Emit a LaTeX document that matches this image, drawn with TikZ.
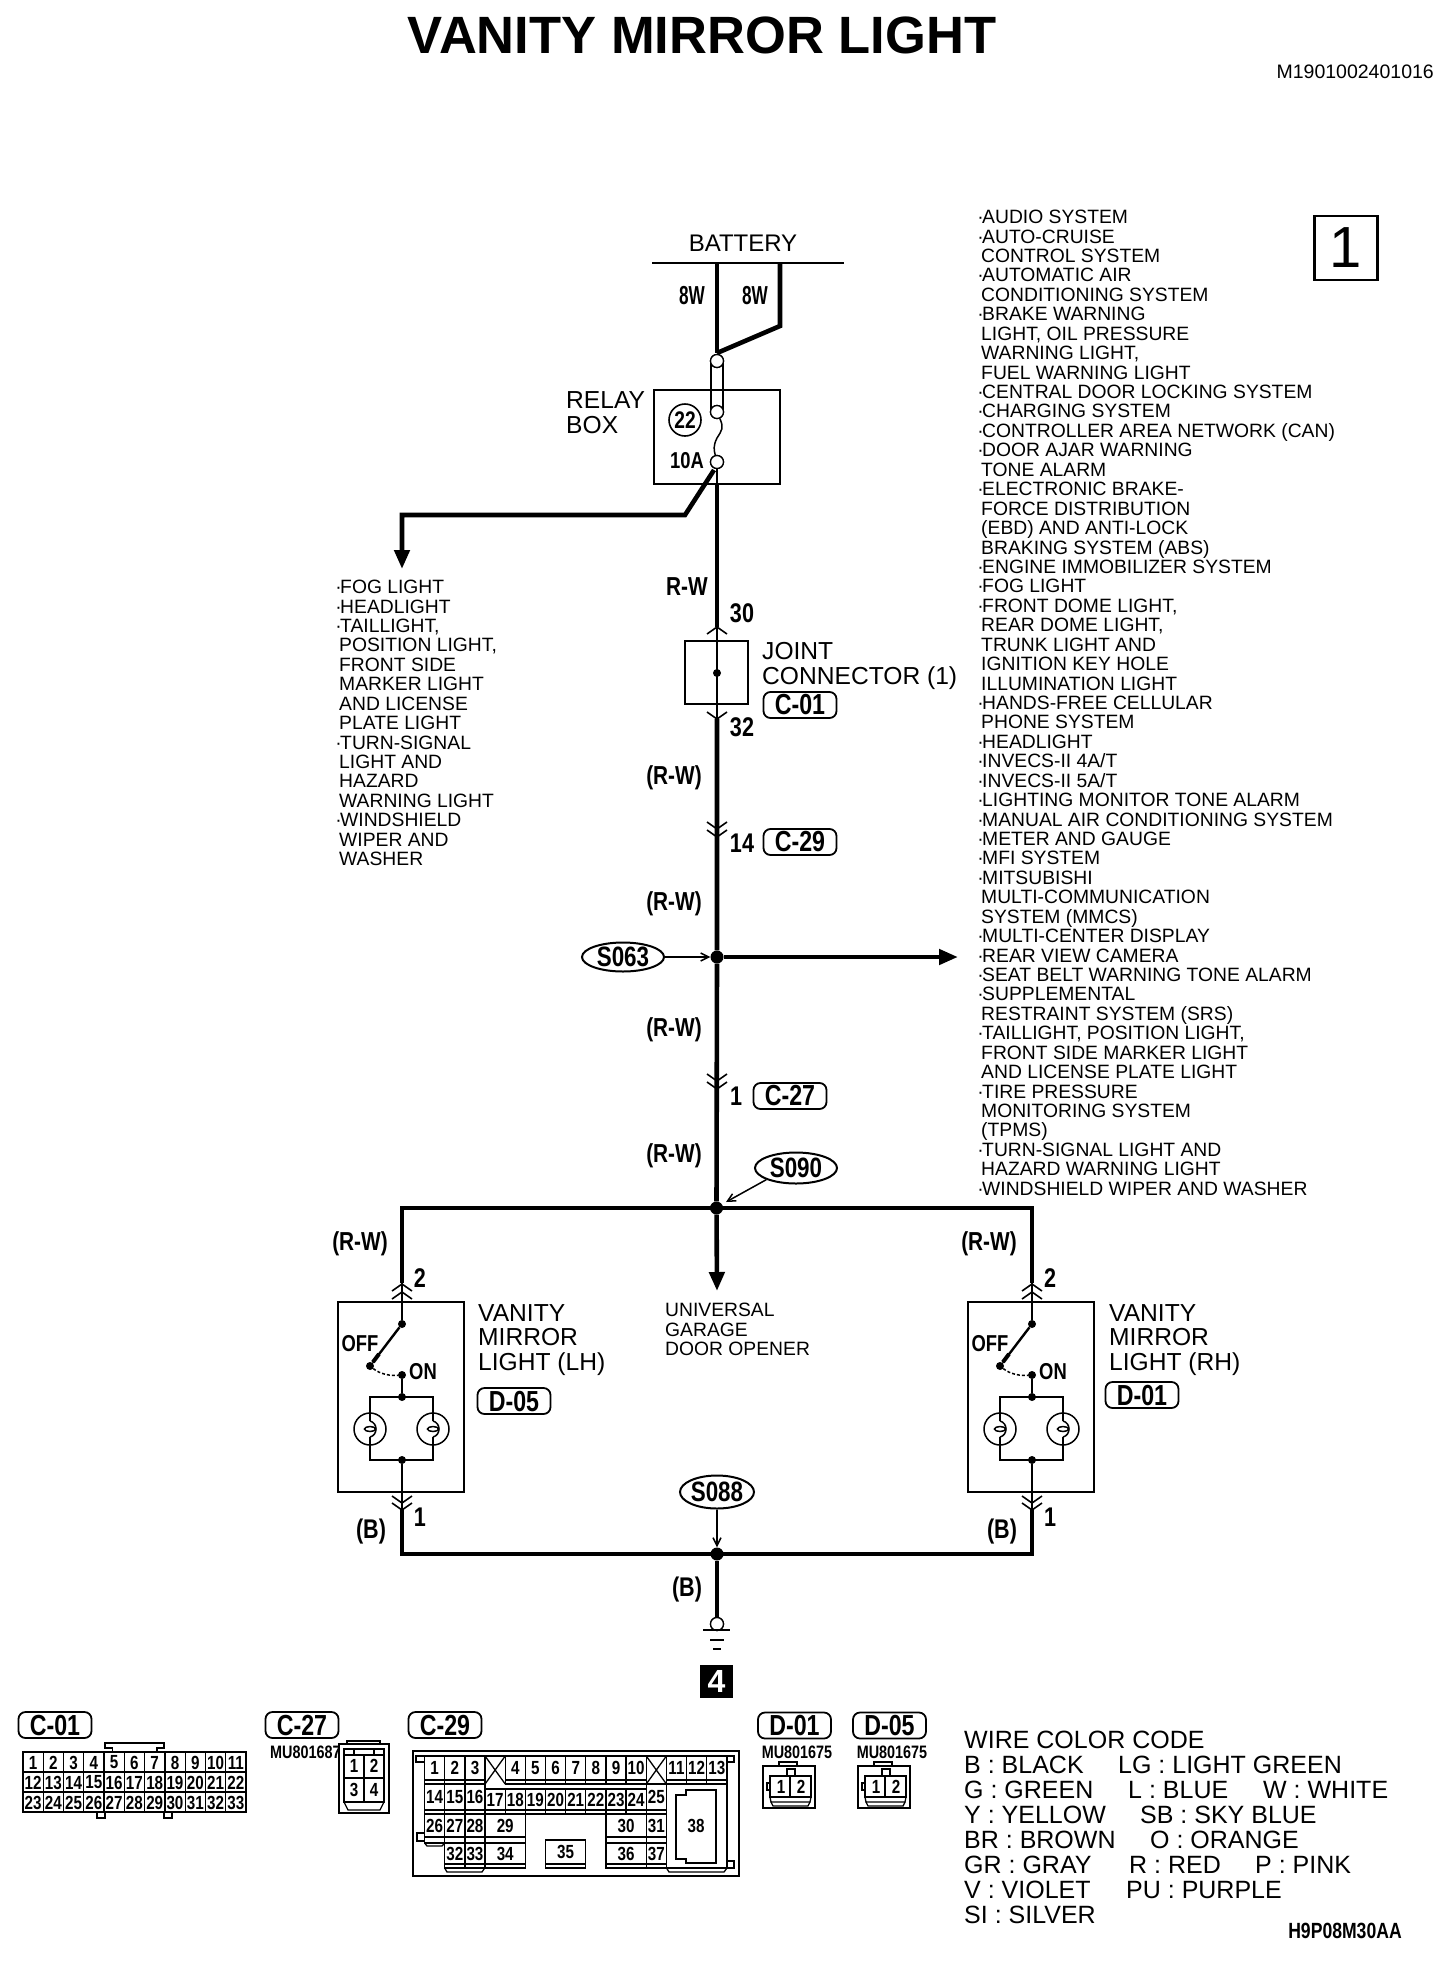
\documentclass[tikz,border=0pt]{standalone}
\usepackage{fontspec}
\usetikzlibrary{shapes.geometric,arrows.meta}
\setmainfont{Liberation Sans}
\newfontfamily\cnd[UprightFont={* Bold},FakeStretch=0.8]{Liberation Sans}
\newfontfamily\cnn[UprightFont={* Bold},FakeStretch=0.66]{Liberation Sans}
\newfontfamily\bdf[UprightFont={* Bold}]{Liberation Sans}
\newcommand\cf[1]{\cnd\fontsize{#1}{#1}\selectfont}
\newcommand\cg[1]{\cnn\fontsize{#1}{#1}\selectfont}
\newcommand\rf[2]{\fontsize{#1}{#2}\selectfont}
\newcommand\bd{\kern1pt\llap{·\kern-1.5pt}}
\tikzset{
 wirethick/.style={line width=4.6pt},
 thinw/.style={line width=1.5pt},
 midw/.style={line width=2.4pt},
 cline/.style={line width=1.3pt},
 jdot/.style={circle,fill=black,inner sep=0pt,minimum size=13pt},
 sdot/.style={circle,fill=black,inner sep=0pt,minimum size=8pt},
 hole/.style={circle,draw,fill=white,line width=1.3pt,inner sep=0pt,minimum size=13pt},
 lab/.style={inner sep=0pt,font=\cf{27}},
 labn/.style={inner sep=0pt,font=\cf{26}},
 eightw/.style={inner sep=0pt,font=\cg{26}},
 txt/.style={inner sep=0pt,anchor=west,font=\rf{24.6}{24.6}},
 lst/.style={inner sep=0pt,anchor=north west,align=left,font=\rf{19.3}{19.43}},
 tag/.style={draw,line width=1.8pt,rounded corners=7pt,minimum width=73pt,minimum height=26pt,inner sep=0pt,font=\cf{29}},
 splice/.style={draw,ellipse,line width=2pt,inner sep=0pt,font=\cf{28}},
 cnum/.style={inner sep=0pt,font=\cf{19}},
 mu/.style={inner sep=0pt,font=\cf{18}},
 legend/.style={inner sep=0pt,anchor=west,font=\rf{25}{25}},
 barb/.style={-{Straight Barb[length=8pt,width=8pt]}},
 bighead/.style={-{Triangle[length=19pt,width=15pt]}},
}
\newcommand\chevd[2]{\draw[line width=1.6pt] (#1-10,#2-7)--(#1,#2)--(#1+10,#2-7);}
\newcommand\chevu[2]{\draw[line width=1.6pt] (#1-10,#2+7)--(#1,#2)--(#1+10,#2+7);}
% lamp unit: #1 prefix, #2 wire x
\newcommand\lampunit[2]{%
 \pgfmathsetmacro\la{#2-32}\pgfmathsetmacro\lb{#2+31}
 \node[draw,line width=1.4pt,inner sep=0pt,minimum width=126pt,minimum height=190pt] (#1box) at (#2-1,1397) {};
 \coordinate (#1top) at (#2,1283);
 \node[sdot] (#1d1) at (#2,1324) {};
 \node[sdot] (#1d2) at (\la-0,1366) {};
 \node[sdot] (#1d3) at (#2,1375) {};
 \node[sdot] (#1d4) at (#2,1397) {};
 \node[sdot] (#1d5) at (#2,1460) {};
 \draw[midw] (#1top)--(#1d1);
 \draw[midw] (#1d1)--(#1d2);
 \draw[line width=4pt] (\la+3,1362)--(\la+9,1354);
 \draw[thinw,densely dashed] (#1d2) .. controls (\la+10,1374) and (#2-12,1376) .. (#1d3);
 \draw[midw] (#1d3)--(#1d4);
 \draw[thinw] (\la,1421)--(\la,1397)--(\lb,1397)--(\lb,1421);
 \draw[thinw] (\la,1437)--(\la,1460)--(\lb,1460)--(\lb,1437);
 \foreach \c in {\la,\lb}{
  \draw[thinw] (\c,1429) circle (16);
  \draw[thinw] (\c,1429) ellipse (5.5 and 2.5);
  \draw[thinw] (\c,1421) .. controls (\c+8,1423) and (\c+8,1435) .. (\c,1437);
 }
 \draw[midw] (#1d5)--(#2,1508);
 \chevu{#2}{1284}\chevu{#2}{1292}
 \chevd{#2}{1503}\chevd{#2}{1510}
 \node[lab,font=\cf{23}] (#1off) at (#2-42,1344) {OFF};
 \node[lab,font=\cf{23}] (#1on) at (#2+21,1372) {ON};
 \node[lab] (#1n2) at (#2+18,1278) {2};
 \node[lab] (#1n1) at (#2+18,1517) {1};
}
\newcommand\cellb[6]{% i, span, y0, y1, yline, label
 \pgfmathsetmacro\xa{424.6+20.15*#1}\pgfmathsetmacro\xb{\xa+20.15*#2}
 \draw[cline] (\xa,#3) rectangle (\xb,#4);
 \draw[cline] (\xa,#5) -- (\xb,#5);
 \node[cnum] (c29n#6) at ({(\xa+\xb)/2},{(#3+#5)/2}) {#6};
}
\newcommand\dconn[2]{% prefix, x offset
 \begin{scope}[shift={(#2,0)}]
 \draw[line width=2pt] (763,1766) rectangle (815,1808);
 \draw[cline] (779,1766)--(779,1762)--(797,1762)--(797,1766);
 \draw[line width=1.6pt] (770,1776) rectangle (790,1797);
 \draw[line width=1.6pt] (790,1776) rectangle (811,1797);
 \draw[cline] (787,1776)--(787,1769)--(795,1769)--(795,1776);
 \draw[cline] (770,1783)--(767,1783)--(767,1790)--(770,1790);
 \draw[cline] (770,1797)--(771,1802)--(810,1802)--(811,1797);
 \draw[cline] (771,1802)--(773,1806)--(808,1806)--(810,1802);
 \node[cnum] (#1a) at (781,1787) {1};
 \node[cnum] (#1b) at (801,1787) {2};
 \end{scope}
}
\begin{document}
\begin{tikzpicture}[x=1pt,y=-1pt]
\useasboundingbox (0,0) rectangle (1456,1970);
\fill[white] (0,0) rectangle (1456,1970);
% titles
\node[inner sep=0pt,font=\bdf\fontsize{52.5}{52.5}\selectfont] (title) at (702,35) {VANITY MIRROR LIGHT};
\node[inner sep=0pt,anchor=east,font=\rf{19.5}{19.5}] (code) at (1434,72) {M1901002401016};
\node[draw,line width=2.6pt,minimum width=63pt,minimum height=64pt,inner sep=0pt,font=\rf{58}{58}] (sheet) at (1346,248) {1};
% battery
\node[inner sep=0pt,font=\rf{24}{24}] (battery) at (743,243) {BATTERY};
\coordinate (busl) at (652,263); \coordinate (busr) at (844,263);
\draw[line width=2.4pt] (busl)--(busr);
\node[hole] (h1) at (717,361) {};
\node[hole] (h2) at (717,412) {};
\node[hole] (h3) at (717,462) {};
\node[draw,line width=1.4pt,inner sep=0pt,minimum width=126pt,minimum height=94pt] (relay) at (717,437) {};
\draw[thinw] (711,361)--(711,412) (723,361)--(723,412);
\node[hole] at (h1) {};\node[hole] at (h2) {};\node[hole] at (h3) {};
\draw[wirethick] (717,263)--(717,353);
\draw[wirethick] (780,263)--(780,326)--(717,353);
\draw[thinw] (h2) .. controls (724,428) and (722,430) .. (717,438) .. controls (713,446) and (714,450) .. (h3);
\node[inner sep=0pt,font=\rf{24.6}{25},align=left,anchor=west] (rbox) at (566,413) {RELAY\\BOX};
\node[draw,circle,line width=1.6pt,minimum size=32pt,inner sep=0pt,font=\cf{24}] (f22) at (685,420) {22};
\node[lab,font=\cf{23}] (f10) at (687,461) {10A};
\node[eightw] (w1) at (692,296) {8W};
\node[eightw] (w2) at (755,296) {8W};
% main wire
\draw[thinw] (h3)--(717,484);
\draw[wirethick] (717,484)--(717,627);
\draw[wirethick,bighead] (714,470)--(685,515)--(402,515)--(402,569);
\chevu{717}{627}
\node[lab] (n30) at (742,613) {30};
\node[labn] (rw0) at (687,587) {R-W};
\node[draw,line width=1.6pt,inner sep=0pt,minimum size=63pt] (joint) at (716.5,672.5) {};
\draw[thinw] (717,627)--(717,719);
\node[sdot] (jd) at (717,673) {};
\chevd{717}{719}
\node[lab] (n32) at (742,727) {32};
\node[txt,align=left] (jc) at (762,666) {JOINT\\CONNECTOR (1)};
\node[tag] (c01t) at (800,705) {C-01};
\node[labn] (rw1) at (674,778) {(R-W)};
\chevd{717}{829}\chevd{717}{837}
\node[lab] (n14) at (742,843) {14};
\node[tag] (c29t) at (800,842) {C-29};
\node[labn] (rw2) at (674,904) {(R-W)};
\node[jdot] (j1) at (717,957) {};
\node[splice,minimum width=82pt,minimum height=29pt] (s063) at (623,957) {S063};
\draw[thinw,barb] (s063)--(j1);
\coordinate (rtip) at (958,957);
\draw[wirethick,bighead] (j1)--(rtip);
\node[labn] (rw3) at (674,1030) {(R-W)};
\chevd{717}{1081}\chevd{717}{1089}
\node[lab] (n1) at (736,1096) {1};
\node[tag] (c27t) at (790,1096) {C-27};
\node[labn] (rw4) at (674,1156) {(R-W)};
\node[jdot] (j2) at (716.5,1208) {};
\draw[wirethick] (717,719)--(j1)--(j2);
\node[splice,minimum width=82pt,minimum height=31pt] (s090) at (796,1168) {S090};
\coordinate (s090tip) at (726,1202);
\draw[thinw,barb] (s090.south west)--(s090tip);
\coordinate (ll) at (402,1283); \coordinate (rr) at (1032,1283);
\draw[wirethick] (ll)--(402,1208)--(1032,1208)--(rr);
\coordinate (gtip) at (717,1291);
\draw[wirethick,bighead] (j2)--(gtip);
\node[lst,font=\rf{19.3}{19.43}] (garage) at (665,1303) {UNIVERSAL\\GARAGE\\DOOR OPENER};
% lamps
\lampunit{a}{402}
\lampunit{b}{1032}
\node[labn] (rw5) at (360,1244) {(R-W)};
\node[labn] (rw6) at (989,1244) {(R-W)};
\node[txt,align=left] (vl) at (478,1340) {VANITY\\MIRROR\\LIGHT (LH)};
\node[txt,align=left] (vr) at (1109,1340) {VANITY\\MIRROR\\LIGHT (RH)};
\node[tag] (d05t) at (514,1401) {D-05};
\node[tag] (d01t) at (1142,1395) {D-01};
\node[lab] (b1) at (371,1531) {(B)};
\node[lab] (b2) at (1002,1531) {(B)};
% ground
\node[jdot] (j3) at (717,1554) {};
\draw[wirethick] (402,1508)--(402,1554)--(1032,1554)--(1032,1508);
\node[splice,minimum width=72pt,minimum height=33pt] (s088) at (717,1492) {S088};
\draw[thinw,barb] (s088)--(j3.north);
\node[hole] (gc) at (717,1624) {};
\draw[wirethick] (j3)--(gc);
\node[hole] at (gc) {};
\draw[midw] (703,1630)--(730,1630);
\draw[midw] (710,1640)--(724,1640);
\draw[midw] (713,1649)--(721,1649);
\node[lab] (b3) at (687,1589) {(B)};
\node[fill=black,text=white,minimum size=33pt,inner sep=0pt,font=\bdf\fontsize{32}{32}\selectfont] (g4) at (716.5,1681) {4};
% left list
\node[lst] (left) at (339,580) {\bd FOG LIGHT\\\bd HEADLIGHT\\\bd TAILLIGHT,\\POSITION LIGHT,\\FRONT SIDE\\MARKER LIGHT\\AND LICENSE\\PLATE LIGHT\\\bd TURN-SIGNAL\\LIGHT AND\\HAZARD\\WARNING LIGHT\\\bd WINDSHIELD\\WIPER AND\\WASHER};
% right list
\node[lst] (right) at (981,210) {\bd AUDIO SYSTEM\\\bd AUTO-CRUISE\\CONTROL SYSTEM\\\bd AUTOMATIC AIR\\CONDITIONING SYSTEM\\\bd BRAKE WARNING\\LIGHT, OIL PRESSURE\\WARNING LIGHT,\\FUEL WARNING LIGHT\\\bd CENTRAL DOOR LOCKING SYSTEM\\\bd CHARGING SYSTEM\\\bd CONTROLLER AREA NETWORK (CAN)\\\bd DOOR AJAR WARNING\\TONE ALARM\\\bd ELECTRONIC BRAKE-\\FORCE DISTRIBUTION\\(EBD) AND ANTI-LOCK\\BRAKING SYSTEM (ABS)\\\bd ENGINE IMMOBILIZER SYSTEM\\\bd FOG LIGHT\\\bd FRONT DOME LIGHT,\\REAR DOME LIGHT,\\TRUNK LIGHT AND\\IGNITION KEY HOLE\\ILLUMINATION LIGHT\\\bd HANDS-FREE CELLULAR\\PHONE SYSTEM\\\bd HEADLIGHT\\\bd INVECS-II 4A/T\\\bd INVECS-II 5A/T\\\bd LIGHTING MONITOR TONE ALARM\\\bd MANUAL AIR CONDITIONING SYSTEM\\\bd METER AND GAUGE\\\bd MFI SYSTEM\\\bd MITSUBISHI\\MULTI-COMMUNICATION\\SYSTEM (MMCS)\\\bd MULTI-CENTER DISPLAY\\\bd REAR VIEW CAMERA\\\bd SEAT BELT WARNING TONE ALARM\\\bd SUPPLEMENTAL\\RESTRAINT SYSTEM (SRS)\\\bd TAILLIGHT, POSITION LIGHT,\\FRONT SIDE MARKER LIGHT\\AND LICENSE PLATE LIGHT\\\bd TIRE PRESSURE\\MONITORING SYSTEM\\(TPMS)\\\bd TURN-SIGNAL LIGHT AND\\HAZARD WARNING LIGHT\\\bd WINDSHIELD WIPER AND WASHER};
% connector tags
\node[tag] (c01k) at (55,1725) {C-01};
\node[tag] (c27k) at (302,1725) {C-27};
\node[tag] (c29k) at (445,1725) {C-29};
\node[tag] (d01k) at (794.5,1725.5) {D-01};
\node[tag] (d05k) at (889.5,1725.5) {D-05};
% C-01 connector
\draw[line width=2.2pt] (23,1752) rectangle (246,1812);
\draw[cline] (112.5,1752)--(112.5,1748)--(105,1748)--(105,1743)--(164,1743)--(164,1748)--(157,1748)--(157,1752);
\draw[cline] (97,1812)--(97,1818)--(105,1818)--(105,1812) (164,1812)--(164,1818)--(172,1818)--(172,1812);
\foreach \n in {1,...,33}{
 \pgfmathtruncatemacro\rw{(\n-1)/11}
 \pgfmathtruncatemacro\cl{\n-1-11*\rw}
 \pgfmathsetmacro\xa{23+20.27*\cl}
 \pgfmathsetmacro\ya{1752+20*\rw}
 \draw[cline] (\xa,\ya) rectangle +(20.27,20);
 \node[cnum] (c01n\n) at (\xa+10.1,\ya+10.5) {\n};
}
% C-27 connector
\node[mu,anchor=west] (mu1) at (270,1752) {MU801687};
\draw[line width=2pt] (339,1744) rectangle (389,1813);
\draw[cline] (347,1744)--(347,1741)--(380,1741)--(380,1744);
\draw[cline] (344,1749) rectangle (384,1802);
\draw[cline] (354,1755)--(354,1749)--(374,1749)--(374,1755);
\draw[line width=1.8pt] (344,1755)--(384,1755) (344,1778)--(384,1778) (364,1755)--(364,1802);
\draw[cline] (344,1802)--(348,1810)--(380,1810)--(384,1802);
\node[cnum] (k1) at (354,1766) {1};\node[cnum] (k2) at (374,1766) {2};
\node[cnum] (k3) at (354,1790) {3};\node[cnum] (k4) at (374,1790) {4};
% C-29 connector
\draw[line width=2pt] (413,1751) rectangle (739,1876);
\draw[line width=1.8pt] (416,1756)--(734,1756);
\draw[cline] (424.6,1756)--(416,1756)--(416,1762)--(424.6,1762);
\draw[cline] (727,1756)--(734,1756)--(734,1762)--(727,1762);
\draw[cline] (424.6,1833)--(417,1833)--(417,1841)--(424.6,1841);
\draw[cline] (727,1861)--(734,1861)--(734,1868)--(727,1868);
\foreach \i/\t in {0/1,1/2,2/3,4/4,5/5,6/6,7/7,8/8,9/9,10/10,12/11,13/12,14/13}{\cellb{\i}{1}{1756}{1784}{1780}{\t}}
\foreach \i in {3,11}{
 \pgfmathsetmacro\xa{424.6+20.15*\i}\pgfmathsetmacro\xb{\xa+20.15}
 \draw[cline] (\xa,1756)--(\xb,1784) (\xb,1756)--(\xa,1784);
}
\foreach \i/\t in {0/14,1/15,2/16}{\cellb{\i}{1}{1784}{1814}{1810}{\t}}
\foreach \i/\t in {3/17,4/18,5/19,6/20,7/21,8/22,9/23,10/24}{\cellb{\i}{1}{1789}{1814}{1810}{\t}}
\cellb{11}{1}{1784}{1814}{1810}{25}
\foreach \i/\t in {0/26,1/27,2/28}{\cellb{\i}{1}{1814}{1843}{1837}{\t}}
\cellb{3}{2}{1814}{1843}{1837}{29}
\cellb{9}{2}{1814}{1843}{1837}{30}
\cellb{11}{1}{1814}{1843}{1837}{31}
\foreach \i/\t in {1/32,2/33}{\cellb{\i}{1}{1843}{1868}{1864}{\t}}
\cellb{3}{2}{1843}{1868}{1864}{34}
\cellb{6}{2}{1840}{1868}{1864}{35}
\cellb{9}{2}{1843}{1868}{1864}{36}
\cellb{11}{1}{1843}{1868}{1864}{37}
\draw[cline] (666.5,1784) rectangle (727,1868);
\draw[cline] (686,1790)--(716,1790)--(716,1863)--(686,1863)--(686,1859)--(676,1859)--(676,1795)--(686,1795)--cycle;
\node[cnum] (c29n38) at (696,1826) {38};
\draw[cline] (424.6,1843)--(427,1846)--(442,1846)--(444.7,1843);
\draw[cline] (444.7,1868)--(447,1872)--(482,1872)--(484.7,1868);
\draw[cline] (666.5,1868)--(669,1872)--(724,1872)--(727,1868);
% D connectors
\node[mu] (mu2) at (797,1752) {MU801675};
\node[mu] (mu3) at (892,1752) {MU801675};
\dconn{da}{0}
\dconn{db}{95}
% legend
\node[legend] (l0) at (964,1740) {WIRE COLOR CODE};
\node[legend] (l1) at (964,1765) {B : BLACK};
\node[legend] (l1b) at (1118,1765) {LG : LIGHT GREEN};
\node[legend] (l2) at (964,1790) {G : GREEN};
\node[legend] (l2b) at (1128,1790) {L : BLUE};
\node[legend] (l2c) at (1263,1790) {W : WHITE};
\node[legend] (l3) at (964,1815) {Y : YELLOW};
\node[legend] (l3b) at (1140,1815) {SB : SKY BLUE};
\node[legend] (l4) at (964,1840) {BR : BROWN};
\node[legend] (l4b) at (1150,1840) {O : ORANGE};
\node[legend] (l5) at (964,1865) {GR : GRAY};
\node[legend] (l5b) at (1129,1865) {R : RED};
\node[legend] (l5c) at (1255,1865) {P : PINK};
\node[legend] (l6) at (964,1890) {V : VIOLET};
\node[legend] (l6b) at (1126,1890) {PU : PURPLE};
\node[legend] (l7) at (964,1915) {SI : SILVER};
\node[inner sep=0pt,font=\cf{22}] (h9) at (1345,1931) {H9P08M30AA};
\end{tikzpicture}
\end{document}
